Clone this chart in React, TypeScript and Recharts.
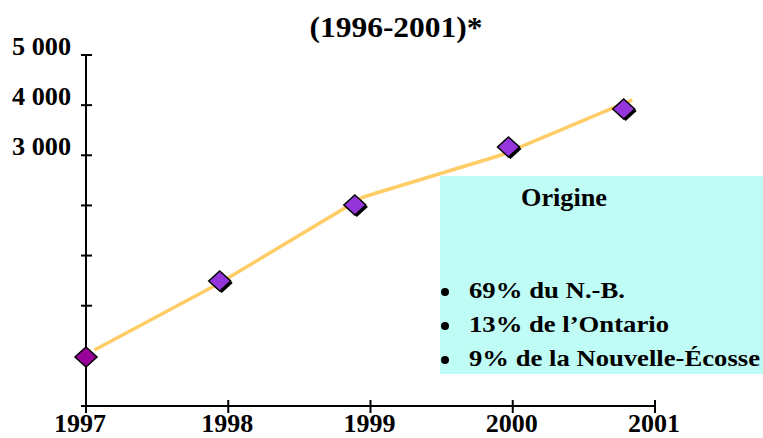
import { ComposedChart, Line, Scatter, XAxis, YAxis } from 'recharts';

const years = [1997, 1998, 1999, 2000, 2001];
const yTicks = [-2000, -1000, 0, 1000, 2000, 3000, 4000, 5000];
const yLabels: Record<number, string> = { 5000: '5 000', 4000: '4 000', 3000: '3 000' };

// losanges (positions)
const markerX = [1997.0, 1997.94, 1998.89, 1999.97, 2000.78];
const markerY = [-1022, 493, 2009, 3165, 3923];

// la courbe ne passe pas exactement par les losanges
const lineX = [1997.06, 1997.94, 1998.95, 1999.92, 2000.84];
const lineY = [-883, 454, 2169, 3006, 4103];

const title = '(1996-2001)*';
const boxTitle = 'Origine';
const origins = ['69% du N.-B.', '13% de l’Ontario', '9% de la Nouvelle-Écosse'];
const originWidths = [156, 200, 291];

const markers = markerX.map((x, i) => ({ x, y: markerY[i] }));
const curve = lineX.map((x, i) => ({ x, y: lineY[i] }));

const FONT = '"Liberation Serif", "Times New Roman", serif';

const YTick = (props: any) => {
  const { x, y, payload } = props;
  const label = yLabels[payload.value];
  // the first diamond hides the -1000 tick in the original
  const hidden = payload.value === -1000;
  return (
    <g>
      {!hidden && <line x1={x - 5} x2={x + 6} y1={y} y2={y} stroke="#000" strokeWidth={2} />}
      {label && (
        <text x={x - 15} y={y} textAnchor="end" fontFamily={FONT} fontWeight="bold" fontSize={25}
          fill="#000" textLength={59} lengthAdjust="spacingAndGlyphs">
          {label}
        </text>
      )}
    </g>
  );
};

const XTick = (props: any) => {
  const { x, y, payload } = props;
  const shift = payload.value === years[0] ? -6 : -1;
  return (
    <g>
      <line x1={x} x2={x} y1={y - 6} y2={y + 7} stroke="#000" strokeWidth={2} />
      <text x={x + shift} y={y + 26} textAnchor="middle" fontFamily={FONT} fontWeight="bold" fontSize={26}
        fill="#000" textLength={52} lengthAdjust="spacingAndGlyphs">
        {payload.value}
      </text>
    </g>
  );
};

const Diamond = (props: any) => {
  const { cx, cy, payload } = props;
  const first = payload && payload.x === markerX[0];
  const pts = (dx: number, dy: number) =>
    `${cx + dx},${cy - 10 + dy} ${cx + 11 + dx},${cy + dy} ${cx + dx},${cy + 10 + dy} ${cx - 11 + dx},${cy + dy}`;
  return (
    <g>
      {!first && <polygon points={pts(2, 2)} fill="#000" />}
      <polygon points={pts(0, 0)} fill={first ? '#990099' : '#9436DC'} stroke="#000" strokeWidth={1.5} />
    </g>
  );
};

export default function App() {
  return (
    <div style={{ position: 'absolute', left: 0, top: 0, width: 763, height: 438, background: '#fff' }}>
      <ComposedChart width={763} height={438} margin={{ top: 55, right: 108, bottom: 0, left: 0 }}>
        <XAxis
          type="number"
          dataKey="x"
          domain={[1997, 2001]}
          ticks={years}
          height={32}
          tickSize={0}
          tickMargin={0}
          axisLine={{ stroke: '#000', strokeWidth: 2 }}
          tick={<XTick />}
          interval={0}
        />
        <YAxis
          type="number"
          dataKey="y"
          domain={[-2000, 5000]}
          ticks={yTicks}
          width={86}
          tickSize={0}
          tickMargin={0}
          axisLine={{ stroke: '#000', strokeWidth: 2 }}
          tick={<YTick />}
          interval={0}
        />
        <Line
          data={curve}
          dataKey="y"
          type="linear"
          stroke="#FFCC66"
          strokeWidth={3.5}
          dot={false}
          activeDot={false}
          isAnimationActive={false}
        />
        <Scatter data={markers} dataKey="y" shape={<Diamond />} isAnimationActive={false} />
      </ComposedChart>
      <svg width={763} height={438} style={{ position: 'absolute', left: 0, top: 0, pointerEvents: 'none' }}>
        <text x={396} y={37} textAnchor="middle" fontFamily={FONT} fontWeight="bold" fontSize={29}
          textLength={173} lengthAdjust="spacingAndGlyphs">
          {title}
        </text>
        <rect x={440} y={176} width={323} height={198} fill="#C0FCF6" />
        <text x={521} y={206} fontFamily={FONT} fontWeight="bold" fontSize={25}
          textLength={86} lengthAdjust="spacingAndGlyphs">
          {boxTitle}
        </text>
        {origins.map((t, i) => (
          <g key={t}>
            <circle cx={445} cy={292 + i * 34} r={4} fill="#000" />
            <text x={469} y={298 + i * 34} fontFamily={FONT} fontWeight="bold" fontSize={23}
              textLength={originWidths[i]} lengthAdjust="spacingAndGlyphs">
              {t}
            </text>
          </g>
        ))}
      </svg>
    </div>
  );
}
